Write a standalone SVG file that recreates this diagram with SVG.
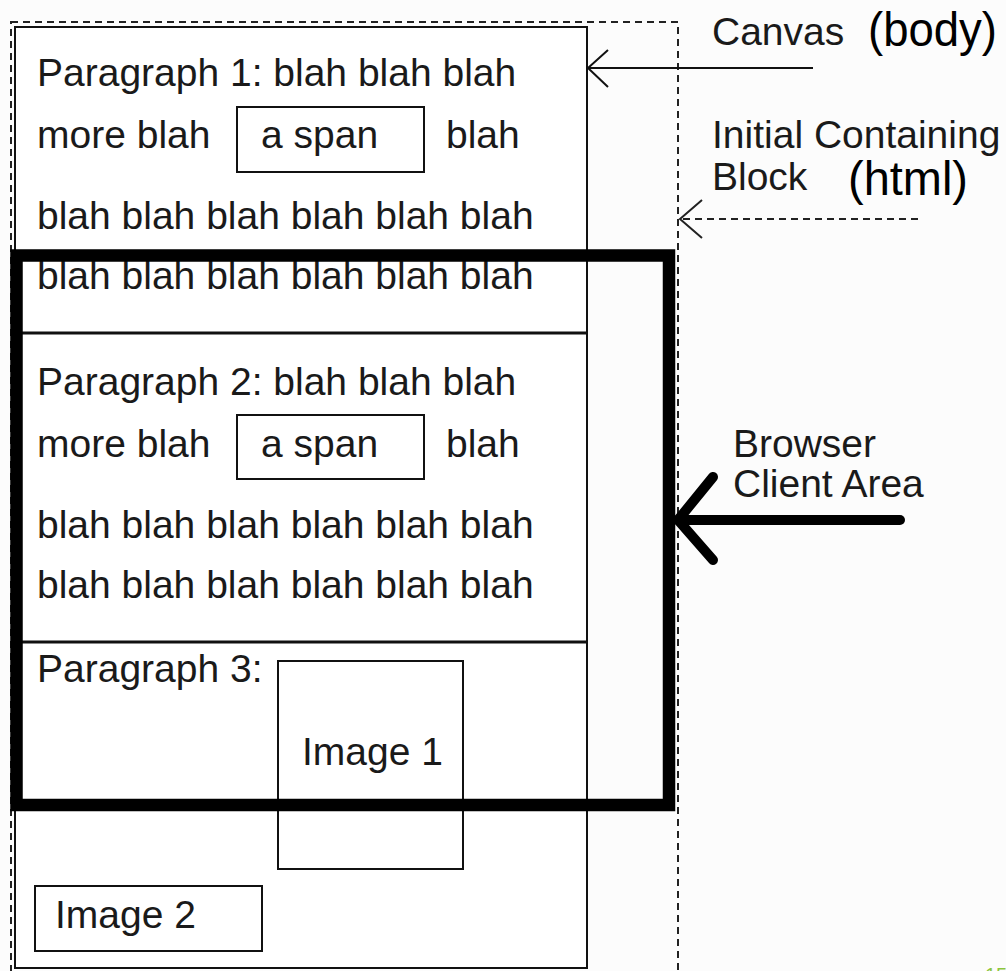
<svg xmlns="http://www.w3.org/2000/svg" width="1006" height="971" viewBox="0 0 1006 971">
<style>
.t{font-family:"Liberation Sans",Arial,sans-serif;font-size:39px;fill:#1a1a1a}
.big{font-family:"Liberation Sans",Arial,sans-serif;fill:#000}
.box{fill:none;stroke:#111;stroke-width:2}
.dash{fill:none;stroke:#222;stroke-width:2;stroke-dasharray:7 5}
</style>
<rect width="1006" height="971" fill="#fcfcfc"/>
<g id="icb">
<rect x="11" y="22" width="667" height="960" class="dash"/>
</g>
<g id="canvas">
<rect x="15" y="27" width="572" height="941" fill="#fff" stroke="#111" stroke-width="2"/>
</g>
<g id="paragraph1">
<text class="t" x="37" y="86">Paragraph 1: blah blah blah</text>
<text class="t" x="37" y="148">more blah</text>
<rect x="237" y="107" width="187" height="65" class="box"/>
<text class="t" x="261" y="148">a span</text>
<text class="t" x="446" y="148">blah</text>
<text class="t" x="37" y="229">blah blah blah blah blah blah</text>
<text class="t" x="37" y="289">blah blah blah blah blah blah</text>
</g>
<line x1="17" y1="333" x2="587" y2="333" stroke="#111" stroke-width="3"/>
<g id="paragraph2">
<text class="t" x="37" y="395">Paragraph 2: blah blah blah</text>
<text class="t" x="37" y="457">more blah</text>
<rect x="237" y="415" width="187" height="64" class="box"/>
<text class="t" x="261" y="457">a span</text>
<text class="t" x="446" y="457">blah</text>
<text class="t" x="37" y="538">blah blah blah blah blah blah</text>
<text class="t" x="37" y="598">blah blah blah blah blah blah</text>
</g>
<line x1="17" y1="642" x2="587" y2="642" stroke="#111" stroke-width="3"/>
<g id="paragraph3">
<text class="t" x="37" y="682">Paragraph 3:</text>
</g>
<g id="image1">
<rect x="278" y="661" width="185" height="208" class="box"/>
<text class="t" x="302" y="765">Image 1</text>
</g>
<g id="image2">
<rect x="35" y="886" width="227" height="65" class="box"/>
<text class="t" x="55" y="928">Image 2</text>
</g>
<g id="client-area">
<rect x="16.5" y="255.5" width="652.5" height="549.5" fill="none" stroke="#000" stroke-width="12.5"/>
</g>
<g id="labels">
<text class="t" x="712" y="45">Canvas</text>
<text class="big" x="868" y="46" font-size="48" textLength="129" lengthAdjust="spacingAndGlyphs">(body)</text>
<text class="t" x="712" y="148">Initial Containing</text>
<text class="t" x="712" y="190">Block</text>
<text class="big" x="848" y="195" font-size="48" textLength="120" lengthAdjust="spacingAndGlyphs">(html)</text>
<text class="t" x="733" y="457">Browser</text>
<text class="t" x="733" y="497">Client Area</text>
<text x="985" y="982" font-family="Liberation Sans,Arial,sans-serif" font-size="20" fill="#8cc63f">15</text>
</g>
<g id="connectors">
<line x1="813" y1="68" x2="588" y2="68" stroke="#111" stroke-width="2"/>
<polyline points="608,50 588,68 608,87" fill="none" stroke="#111" stroke-width="2"/>
<line x1="918" y1="219" x2="680" y2="219" class="dash"/>
<polyline points="702,200 680,219 702,238" fill="none" stroke="#222" stroke-width="2"/>
<line x1="900" y1="520" x2="678" y2="520" stroke="#000" stroke-width="10" stroke-linecap="round"/>
<polyline points="713,477 678,520 713,560" fill="none" stroke="#000" stroke-width="10" stroke-linecap="round" stroke-linejoin="round"/>
</g>
</svg>
